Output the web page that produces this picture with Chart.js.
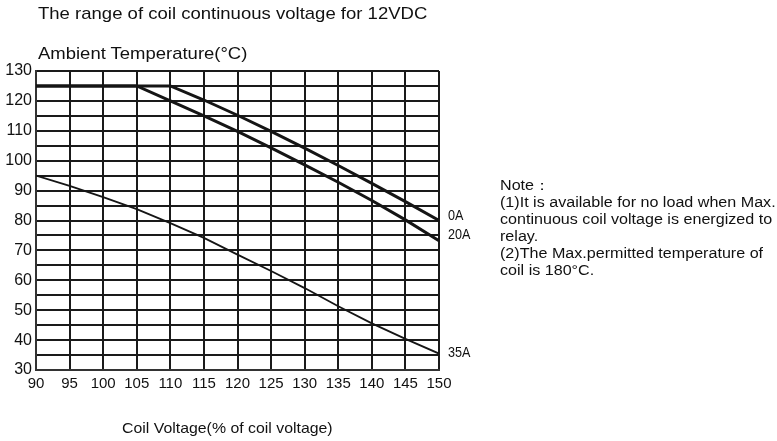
<!DOCTYPE html>
<html>
<head>
<meta charset="utf-8">
<script src="https://cdn.jsdelivr.net/npm/chart.js@4/dist/chart.umd.min.js"></script>
<style>
  html, body { margin: 0; padding: 0; background: #fff; }
  #wrap { position: relative; width: 777px; height: 441px; overflow: hidden; font-family: "Liberation Sans", Arial, sans-serif; color: #111; }
  canvas { position: absolute; left: 0; top: 0; }
  .t { position: absolute; white-space: nowrap; transform-origin: 0 0; }
  #title { left: 38px; top: 4px; font-size: 17px; transform: scaleX(1.09); }
  #ytitle { left: 38px; top: 44px; font-size: 17px; transform: scaleX(1.087); }
  #xtitle { left: 122px; top: 419px; font-size: 15px; transform: scaleX(1.057); }
  #note { left: 500px; top: 177px; font-size: 14px; line-height: 17px; transform: scaleX(1.15); }
</style>
</head>
<body>
<div id="wrap">
  <canvas id="c" width="777" height="441"></canvas>
  <div class="t" id="title">The range of coil continuous voltage for 12VDC</div>
  <div class="t" id="ytitle">Ambient Temperature(°C)</div>
  <div class="t" id="xtitle">Coil Voltage(% of coil voltage)</div>
  <div class="t" id="note">Note：<br>(1)It is available for no load when Max.<br>continuous coil voltage is energized to<br>relay.<br>(2)The Max.permitted temperature of<br>coil is 180°C.</div>
</div>
<script>
// ---- data ----
const coilVoltage = [90, 95, 100, 105, 110, 115, 120, 125, 130, 135, 140, 145, 150];
const temp0A  = [125, 125, 125, 125, 125, 120.3, 115.2, 109.8, 104.2, 98.4, 92.4, 86.3, 80];
const temp20A = [125, 125, 125, 125, 120, 115, 109.8, 104.3, 98.6, 92.8, 86.7, 80.2, 73.2];
const temp35A = [95, 91.6, 87.8, 83.8, 79.1, 74.2, 68.6, 63.1, 57.4, 51.3, 45.6, 40.4, 35.5];
const seriesLabels = ['0A', '20A', '35A'];
const yLabelTicks = [30, 40, 50, 60, 70, 80, 90, 100, 110, 120, 130];

const toXY = arr => coilVoltage.map((x, i) => ({ x: x, y: arr[i] }));

const endLabels = {
  id: 'endLabels',
  afterDatasetsDraw(chart) {
    const ctx = chart.ctx;
    const offs = [-4, -6, 0];
    ctx.save();
    ctx.fillStyle = '#111';
    ctx.textBaseline = 'middle';
    ctx.textAlign = 'left';
    chart.data.datasets.forEach((ds, i) => {
      const meta = chart.getDatasetMeta(i);
      const pt = meta.data[meta.data.length - 1];
      ctx.save();
      ctx.translate(pt.x + 9, pt.y + offs[i]);
      ctx.scale(0.9, 1);
      ctx.font = '14px "Liberation Sans Narrow", "Liberation Sans", Arial, sans-serif';
      ctx.fillText(ds.label, 0, 0);
      ctx.restore();
    });
    ctx.restore();
  }
};

new Chart(document.getElementById('c'), {
  type: 'line',
  data: {
    datasets: [
      { label: seriesLabels[0], data: toXY(temp0A), borderColor: '#151515', borderWidth: 3, pointRadius: 0, tension: 0 },
      { label: seriesLabels[1], data: toXY(temp20A), borderColor: '#151515', borderWidth: 3, pointRadius: 0, tension: 0 },
      { label: seriesLabels[2], data: toXY(temp35A), borderColor: '#151515', borderWidth: 1.8, pointRadius: 0, tension: 0 }
    ]
  },
  options: {
    responsive: false,
    animation: false,
    devicePixelRatio: 1,
    layout: { padding: { top: 71, left: 0, right: 338, bottom: 41 } },
    plugins: { legend: { display: false }, tooltip: { enabled: false }, title: { display: false } },
    scales: {
      x: {
        type: 'linear', min: 90, max: 150,
        afterFit(s) { s.height = 30; },
        ticks: { stepSize: 5, color: '#111', padding: 5, maxRotation: 0, autoSkip: false,
          font: { family: '"Liberation Sans", Arial, sans-serif', size: 15 } },
        grid: { color: '#1a1a1a', lineWidth: 2, drawTicks: false },
        border: { color: '#333', width: 2 }
      },
      y: {
        type: 'linear', min: 30, max: 130,
        afterFit(s) { s.width = 36; },
        ticks: { stepSize: 5, color: '#111', padding: 4, autoSkip: false,
          callback: v => yLabelTicks.includes(v) ? String(v) : '',
          font: { family: '"Liberation Sans", Arial, sans-serif', size: 16 } },
        grid: { color: '#1a1a1a', lineWidth: 2, drawTicks: false },
        border: { color: '#333', width: 2 }
      }
    }
  },
  plugins: [endLabels]
});
</script>
</body>
</html>
